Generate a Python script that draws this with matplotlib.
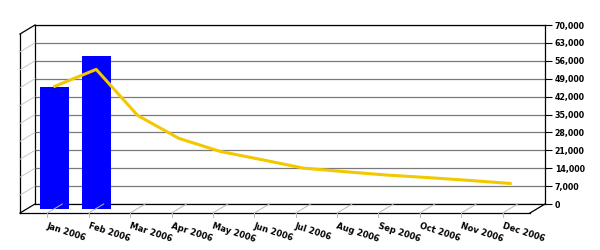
import matplotlib
matplotlib.use("Agg")
import matplotlib.pyplot as plt
from matplotlib.lines import Line2D
from matplotlib.transforms import ScaledTranslation, IdentityTransform
from matplotlib.ticker import MultipleLocator, FuncFormatter

# ---- data ----
months = ["Jan 2006", "Feb 2006", "Mar 2006", "Apr 2006", "May 2006", "Jun 2006",
          "Jul 2006", "Aug 2006", "Sep 2006", "Oct 2006", "Nov 2006", "Dec 2006"]
bar_values = [47700, 59800]
line_values = [47800, 54400, 36400, 27400, 22300, 19100, 15800, 14400, 13100,
               12100, 11000, 9800]
y_max = 70000
y_step = 7000

W, H = 600, 250
fig = plt.figure(figsize=(W / 100, H / 100), dpi=100)
fig.patch.set_facecolor("white")

# back plane of the 3D box (pixel geometry)
BL, BR, BT, BB = 35, 545, 25, 204
DX, DY = -15, 9          # depth offset back -> front (pixels, y down)
ax = fig.add_axes([BL / W, 1 - BB / H, (BR - BL) / W, (BB - BT) / H])
ax.set_xlim(-0.66, 11.66)
ax.set_ylim(0, y_max)
ax.set_facecolor("white")
for s in ax.spines.values():
    s.set_color("black")
    s.set_linewidth(0.9)

ax.yaxis.set_major_locator(MultipleLocator(y_step))
ax.yaxis.tick_right()
ax.yaxis.set_major_formatter(FuncFormatter(lambda v, p: f"{int(v):,}"))
ax.tick_params(axis="y", length=5, width=0.8, pad=2, labelsize=5.7, colors="black")
for lb in ax.get_yticklabels():
    lb.set_fontweight("bold")
ax.yaxis.grid(True, color="#7a7a7a", linewidth=0.9)
ax.set_axisbelow(True)

# mid-depth offset for the series
mid = ScaledTranslation(DX / 2 / 100, -DY / 2 / 100, fig.dpi_scale_trans)
xs = list(range(len(months)))

ax.bar(xs[:len(bar_values)], bar_values, width=0.70, color="#0000ff",
       transform=ax.transData + mid, clip_on=False, zorder=3)
ax.plot(xs, line_values, color="#f2c800", linewidth=2.2, solid_joinstyle="round",
        transform=ax.transData + mid, clip_on=False, zorder=4)

# x labels on the front edge of the floor
ax.set_xticks(xs)
ax.set_xticklabels(months)
ax.tick_params(axis="x", length=0, pad=0)
front = ScaledTranslation((DX + 1) / 100, -(DY + 8) / 100, fig.dpi_scale_trans)
for lb in ax.get_xticklabels():
    lb.set_fontsize(6)
    lb.set_fontweight("bold")
    lb.set_rotation(-18)
    lb.set_rotation_mode("anchor")
    lb.set_ha("left")
    lb.set_va("top")
    lb.set_transform(lb.get_transform() + front)

# ---- 3D decoration (pixel coordinates) ----
def seg(x0, y0, x1, y1, color="black", lw=0.9):
    fig.add_artist(Line2D([x0, x1], [H - y0, H - y1], color=color, linewidth=lw,
                          transform=IdentityTransform(), zorder=1))

# left wall
seg(BL + DX, BT + DY, BL + DX, BB + DY)
seg(BL + DX, BT + DY, BL, BT)
seg(BL + DX, BB + DY, BL, BB)
# floor
seg(BL + DX, BB + DY, BR + DX, BB + DY)
seg(BR + DX, BB + DY, BR, BB)

fig.canvas.draw()
to_disp = ax.transData.transform
# wall gridlines
for v in range(y_step, y_max, y_step):
    _, yd = to_disp((0, v))
    yp = H - yd
    seg(BL, yp, BL + DX, yp + DY, color="#c8c8c8", lw=0.7)
# floor tick lines
for i in xs:
    xd, _ = to_disp((i, 0))
    seg(xd, BB, xd + DX, BB + DY, color="#b8b8b8", lw=0.7)
    seg(xd + DX, BB + DY, xd + DX, BB + DY + 4, color="#b8b8b8", lw=0.7)

fig.savefig("out.png", dpi=100, facecolor="white")
